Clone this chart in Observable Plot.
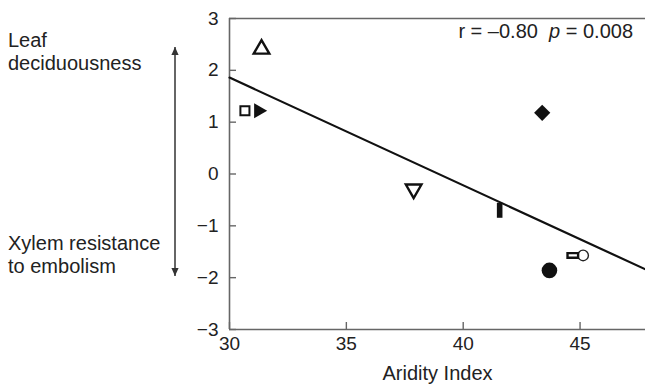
<!DOCTYPE html>
<html><head><meta charset="utf-8">
<script src="https://cdn.jsdelivr.net/npm/d3@7"></script>
<script src="https://cdn.jsdelivr.net/npm/@observablehq/plot@0.6"></script>
<style>body{margin:0;background:#fff}#chart{width:645px;height:385px}</style>
</head><body><div id="chart"></div>
<script>
// ---- data ----
const xTicks = [30, 35, 40, 45];
const yTicks = [-3, -2, -1, 0, 1, 2, 3];
const xDomain = [30, 47.8];
const yDomain = [-3, 3];
const fitX = [30, 47.8];
const fitY = [1.86, -1.84];
const shapes  = ["triUpOpen", "squareOpen", "triRight", "diamond", "triDownOpen", "barV", "circle", "barHOpen", "circleOpen"];
const aridity = [31.37, 30.66, 31.24, 43.38, 37.88, 41.56, 43.69, 44.69, 45.13];
const score   = [2.41, 1.22, 1.22, 1.18, -0.29, -0.70, -1.86, -1.57, -1.57];
const statsText = ["r = –0.80  ", "p", " = 0.008"];
const topLabel = ["Leaf", "deciduousness"];
const bottomLabel = ["Xylem resistance", "to embolism"];
const xLabel = "Aridity Index";

const pts = shapes.map((s, i) => ({shape: s, x: aridity[i], y: score[i]}));
const of = s => pts.filter(d => d.shape === s);

const barV = {draw(ctx) { ctx.rect(-2.8, -7.5, 5.6, 15); }};
const barH = {draw(ctx) { ctx.rect(-5.3, -2.3, 10.6, 4.6); }};

const font = "'Liberation Sans', Arial, sans-serif";
const ink = "#222";
const axisInk = "#666";
const fmt = d => (d < 0 ? "−" + Math.abs(d) : String(d));

const plot = Plot.plot({
  width: 645, height: 385,
  marginLeft: 229, marginRight: 0, marginTop: 18, marginBottom: 56,
  style: {fontFamily: font, fontSize: "19px", color: ink, background: "#fff", overflow: "visible"},
  x: {domain: xDomain},
  y: {domain: yDomain},
  marks: [
    Plot.ruleY([yDomain[0], yDomain[1]], {stroke: axisInk, strokeWidth: 1.6}),
    Plot.ruleX([xDomain[0]], {stroke: axisInk, strokeWidth: 1.6}),
    Plot.axisX({ticks: xTicks, tickSize: -7, tickPadding: 14, stroke: axisInk, strokeWidth: 1.4, tickFormat: fmt, label: null, fill: ink}),
    Plot.axisY({ticks: yTicks, tickSize: -7, tickPadding: 18, stroke: axisInk, strokeWidth: 1.4, tickFormat: fmt, label: null, fill: ink}),
    Plot.line(fitX.map((x, i) => ({x, y: fitY[i]})), {x: "x", y: "y", stroke: "#111", strokeWidth: 2.2}),
    Plot.dot(of("triUpOpen"), {x: "x", y: "y", symbol: "triangle", r: 5.8, fill: "#fff", stroke: "#111", strokeWidth: 2.4}),
    Plot.dot(of("triDownOpen"), {x: "x", y: "y", symbol: "triangle", rotate: 180, r: 5.8, fill: "#fff", stroke: "#111", strokeWidth: 2.4}),
    Plot.dot(of("squareOpen"), {x: "x", y: "y", symbol: "square", r: 5.1, fill: "#fff", stroke: "#111", strokeWidth: 2}),
    Plot.dot(of("triRight"), {x: "x", y: "y", symbol: "triangle", rotate: 90, r: 5.6, fill: "#111", stroke: "none"}),
    Plot.dot(of("diamond"), {x: "x", y: "y", symbol: "diamond2", r: 7.3, fill: "#111", stroke: "none"}),
    Plot.dot(of("barV"), {x: "x", y: "y", symbol: barV, fill: "#111", stroke: "none"}),
    Plot.dot(of("circle"), {x: "x", y: "y", symbol: "circle", r: 7.8, fill: "#111", stroke: "none"}),
    Plot.dot(of("circleOpen"), {x: "x", y: "y", symbol: "circle", r: 5.3, fill: "#fff", stroke: "#222", strokeWidth: 1.4}),
    Plot.dot(of("barHOpen"), {x: "x", y: "y", symbol: barH, fill: "#fff", stroke: "#111", strokeWidth: 2.4}),
    Plot.text([xLabel], {frameAnchor: "bottom", dy: 44, lineAnchor: "middle", fill: ink, fontSize: 20})
  ]
});

const svg = d3.select(plot);
const defs = svg.append("defs");
defs.append("marker").attr("id", "ah").attr("viewBox", "0 0 10 10").attr("refX", 10).attr("refY", 5)
  .attr("markerWidth", 8).attr("markerHeight", 8).attr("markerUnits", "userSpaceOnUse").attr("orient", "auto-start-reverse")
  .append("path").attr("d", "M0,0.5L10,5L0,9.5Z").attr("fill", "#333");
svg.append("line").attr("x1", 175).attr("x2", 175).attr("y1", 47).attr("y2", 276)
  .attr("stroke", "#333").attr("stroke-width", 1.5)
  .attr("marker-start", "url(#ah)").attr("marker-end", "url(#ah)");

const ann = svg.append("g").attr("font-family", font).attr("font-size", 20).attr("fill", ink).attr("text-anchor", "start");
topLabel.forEach((t, i) => ann.append("text").attr("x", 8).attr("y", 47 + i * 23).text(t));
bottomLabel.forEach((t, i) => ann.append("text").attr("x", 8).attr("y", 250 + i * 23).text(t));

const st = svg.append("text").attr("x", 633).attr("y", 38).attr("text-anchor", "end")
  .attr("font-family", font).attr("font-size", 20).attr("fill", ink).attr("xml:space", "preserve").style("white-space", "pre");
st.append("tspan").text(statsText[0]);
st.append("tspan").attr("font-style", "italic").text(statsText[1]);
st.append("tspan").text(statsText[2]);

document.getElementById("chart").appendChild(plot);
</script></body></html>
